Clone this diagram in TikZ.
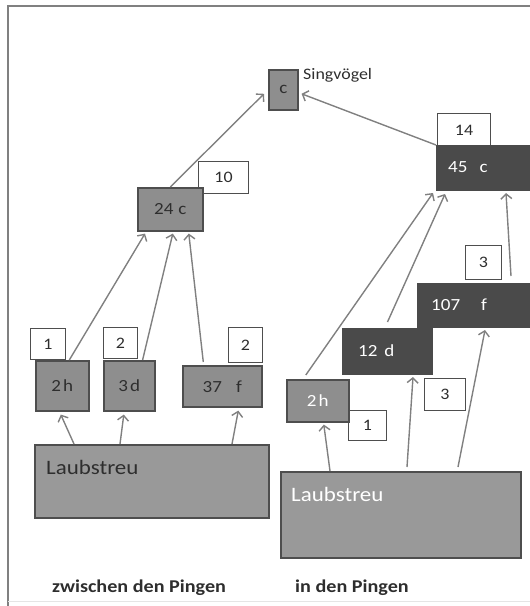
\documentclass[tikz,border=0pt]{standalone}
\usepackage{fontspec}
\setmainfont{Carlito}[FakeStretch=1.12]
\usetikzlibrary{arrows.meta,calc}
\definecolor{midg}{HTML}{8E8E8E}
\definecolor{edgeg}{HTML}{4E4E4E}
\definecolor{darkg}{HTML}{4A4A4A}
\definecolor{litg}{HTML}{999999}
\definecolor{lineg}{HTML}{808080}
\definecolor{txtg}{HTML}{2E2E2E}
\tikzset{
  gbox/.style={draw=edgeg, fill=midg, line width=1.6pt, inner sep=0pt, anchor=north west, text=txtg, font=\fontsize{17}{17}\selectfont},
  dbox/.style={draw=darkg, fill=darkg, line width=1pt, inner sep=0pt, anchor=north west},
  wbox/.style={draw=edgeg, fill=white, line width=1pt, inner sep=0pt, anchor=north west, text=txtg, font=\fontsize{16}{16}\selectfont},
  lbox/.style={draw=edgeg, fill=litg, line width=1.6pt, inner sep=0pt, anchor=north west},
  wtxt/.style={text=white, inner sep=0pt, anchor=west, font=\fontsize{17}{17}\selectfont},
  arr/.style={draw=lineg, line width=1.4pt, -{Straight Barb[length=5pt,width=11pt,line width=1.4pt]}},
}
\begin{document}
\begin{tikzpicture}[x=1pt,y=-1pt]
\useasboundingbox (0,0) rectangle (530,606);
% frame
\draw[draw=lineg, line width=1.5pt] (530,6) -- (8,6) -- (8,606);
\draw[draw=black!10, line width=0.8pt] (8,601) -- (530,601);

% top node
\node[gbox, minimum width=29pt, minimum height=40pt] (c) at (268,69) {c};
\node[anchor=west, inner sep=0pt, text=txtg, font=\fontsize{16}{16}\selectfont] (sing) at (303,75) {Singvögel};

% left side
\node[wbox, minimum width=50pt, minimum height=32pt] (n10) at (198,161) {10};
\node[gbox, minimum width=65pt, minimum height=43pt] (a24) at (137,187) {24\hspace{5pt}c};
\node[wbox, minimum width=35pt, minimum height=31pt] (n1L) at (30,328) {1};
\node[gbox, minimum width=53pt, minimum height=50pt] (h2L) at (35,360) {2\hspace{2pt}h};
\node[wbox, minimum width=34pt, minimum height=31pt] (n2a) at (103,327) {2};
\node[gbox, minimum width=51pt, minimum height=50pt] (d3) at (103,360) {3\hspace{2pt}d\hspace{4pt}};
\node[wbox, minimum width=34pt, minimum height=35pt] (n2b) at (228,327) {2};
\node[gbox, minimum width=79pt, minimum height=41pt] (f37) at (182,365) {37\hspace{14pt}f\hspace{10pt}};
\node[lbox, minimum width=234pt, minimum height=73pt] (LL) at (34,444) {};
\node[anchor=west, inner sep=0pt, text=txtg, font=\fontsize{20.5}{20.5}\selectfont] (LLt) at (46,467) {Laubstreu};

% right side
\node[wbox, minimum width=53pt, minimum height=33pt] (n14) at (437,113) {14};
\node[dbox, minimum width=100pt, minimum height=45pt] (c45) at (436,145) {};
\node[wtxt] (c45t) at (448,167) {45\hspace{12pt}c};
\node[wbox, minimum width=36pt, minimum height=34pt] (n3a) at (465,245) {3};
\node[dbox, minimum width=120pt, minimum height=44pt] (f107) at (417,283) {};
\node[dbox, minimum width=90pt, minimum height=46pt] (d12) at (342,328) {};
\node[wtxt] (f107t) at (431,305) {107\hspace{21pt}f};
\node[wtxt] (d12t) at (358,351) {12\hspace{7pt}d};
\node[wbox, minimum width=41pt, minimum height=32pt] (n3b) at (424,378) {3};
\node[wbox, minimum width=38pt, minimum height=30pt] (n1R) at (348,410) {1};
\node[gbox, minimum width=62pt, minimum height=42pt, text=white] (h2R) at (286,379) {2\hspace{2pt}h};
\node[lbox, minimum width=240pt, minimum height=86pt] (LR) at (280,471) {};
\node[anchor=west, inner sep=0pt, text=white, font=\fontsize{20.5}{20.5}\selectfont] (LRt) at (291,494) {Laubstreu};

% bottom labels
\node[anchor=west, inner sep=0pt, text=txtg, font=\bfseries\fontsize{18}{18}\selectfont] (zw) at (52,588) {zwischen den Pingen};
\node[anchor=west, inner sep=0pt, text=txtg, font=\bfseries\fontsize{18}{18}\selectfont] (in) at (295,588) {in den Pingen};

% arrows left
\draw[arr] (a24.north) -- ($(c.west)+(-4,4)$);
\draw[arr] (c45.north west) -- ($(c.east)+(3,4)$);
\draw[arr] ($(h2L.north)+(7,0)$) -- ($(a24.south west)+(8,2)$);
\draw[arr] ($(d3.north east)+(-13,0)$) -- ($(a24.south)+(2.5,2)$);
\draw[arr] ($(f37.north)+(-19,-3)$) -- ($(a24.south)+(18.5,2)$);
\draw[arr] ($(LL.north west)+(40,0)$) -- ($(h2L.south)+(-1.5,3)$);
\draw[arr] ($(LL.north west)+(86,0)$) -- ($(d3.south)+(-5.5,3)$);
\draw[arr] ($(LL.north west)+(198,0)$) -- ($(f37.south)+(16,3)$);

% arrows right
\draw[arr] ($(h2R.north)+(-12,-4)$) -- ($(c45.south west)+(-3,2)$);
\draw[arr] ($(d12.north)+(0,-6)$) -- ($(c45.south west)+(9,3)$);
\draw[arr] ($(f107.north west)+(94,-7)$) -- ($(c45.south west)+(70,2)$);
\draw[arr] ($(LR.north west)+(50,0)$) -- ($(h2R.south)+(6,2)$);
\draw[arr] ($(LR.north west)+(127,-4)$) -- ($(d12.south west)+(71,2)$);
\draw[arr] ($(LR.north west)+(178,-4)$) -- ($(f107.south west)+(68,2)$);
\end{tikzpicture}
\end{document}
